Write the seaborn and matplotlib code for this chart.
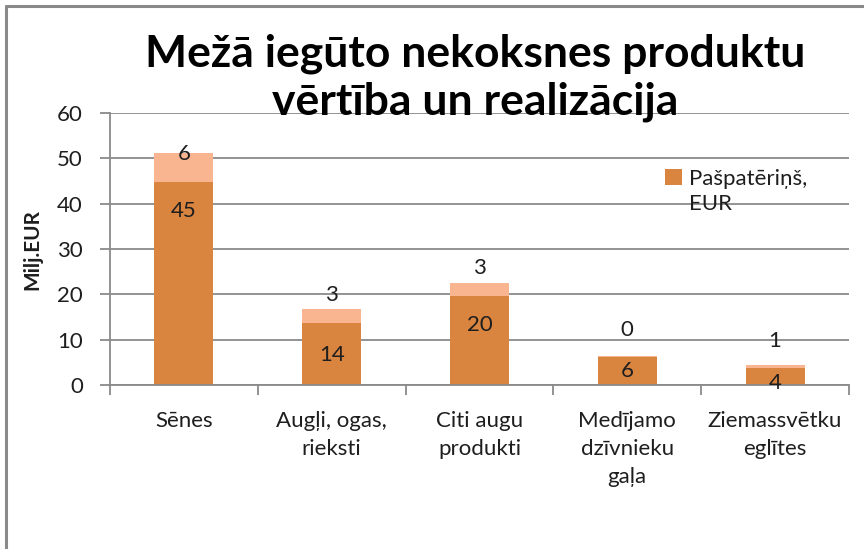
import numpy as np
import pandas as pd
import matplotlib
matplotlib.use('Agg')
import matplotlib.pyplot as plt
import seaborn as sns
from matplotlib.patches import Patch
from matplotlib.lines import Line2D

# values (Milj.EUR)
categories = ['Sēnes', 'Augļi, ogas,\nriieksti'.replace('rii', 'ri'), 'Citi augu\nprodukti',
              'Medījamo\ndzīvnieku\ngaļa', 'Ziemassvētku\neglītes']
pasp = [44.8, 13.7, 19.6, 6.2, 3.8]      # Pašpatēriņš, EUR
real = [6.4, 3.1, 2.9, 0.1, 0.6]         # upper segment
# label nudges in pixels (inner label below top, outer label above top)
inner_off = [-29, -32, -29, -14, -15]
outer_off = [-1, 14, 15, 26, 24]

dark = '#D9843F'
light = '#F9B590'
txt = '#1E1E1E'
grey = '#8A8A8A'

df = pd.DataFrame({'cat': categories, 'pasp': pasp, 'real': real})
df['total'] = df['pasp'] + df['real']

sns.set_style('white')
plt.rcParams['font.family'] = ['Lato', 'DejaVu Sans']

fig = plt.figure(figsize=(8.64, 5.49), dpi=100)
ax = fig.add_axes([110/864, 1 - 385/549, 739/864, 272/549])

sns.barplot(data=df, x='cat', y='total', color=light, width=0.4, ax=ax, saturation=1, linewidth=0)
sns.barplot(data=df, x='cat', y='pasp', color=dark, width=0.4, ax=ax, saturation=1, linewidth=0)

for i, row in df.iterrows():
    ax.annotate(f"{row['pasp']:.0f}", (i, row['pasp']), xytext=(0, inner_off[i]),
                textcoords='offset pixels', ha='center', va='center', fontsize=16, color=txt)
    ax.annotate(f"{row['real']:.0f}", (i, row['total']), xytext=(0, outer_off[i]),
                textcoords='offset pixels', ha='center', va='center', fontsize=16, color=txt)

ax.set_ylim(0, 60)
ax.set_xlim(-0.5, 4.5)
ax.set_yticks(range(0, 61, 10))
ax.yaxis.grid(True, color=grey, lw=1.3)
ax.set_axisbelow(True)
for s in ['top', 'right']:
    ax.spines[s].set_visible(False)
for s in ['left', 'bottom']:
    ax.spines[s].set_color(grey)
    ax.spines[s].set_linewidth(1.3)
ax.set_xticks(np.arange(-0.5, 5, 1), minor=True)
ax.tick_params(axis='x', which='minor', length=7, color=grey, width=1.3, direction='out', bottom=True)
ax.tick_params(axis='x', which='major', length=0, pad=19, labelsize=16, labelcolor=txt)
for lab in ax.get_xticklabels():
    lab.set_linespacing(1.5)
ax.tick_params(axis='y', length=7.5, color=grey, width=1.3, direction='out', left=True,
               labelsize=16, labelcolor=txt, pad=12)
ax.set_xlabel('')
ax.set_ylabel('Milj.EUR', fontsize=15, fontweight='bold', color=txt)
ax.yaxis.set_label_coords(-0.092, 0.5)

leg = ax.legend(handles=[Patch(facecolor=dark, edgecolor='none')], labels=['Pašpatēriņš,'],
                loc='upper left', bbox_to_anchor=(0.736, 0.835), frameon=False, fontsize=16,
                handlelength=0.75, handleheight=0.75, handletextpad=0.35, borderpad=0,
                labelcolor=txt)
fig.canvas.draw()
lt = leg.get_texts()[0].get_window_extent()
x0 = ax.transAxes.inverted().transform((lt.x0, lt.y0))[0]
ax.text(x0, (385 - 210) / 272, 'EUR', transform=ax.transAxes, fontsize=16, color=txt,
        ha='left', va='baseline')

fig.text(0.5498, 1 - 66/549, 'Mežā iegūto nekoksnes produktu', ha='center', va='baseline',
         fontsize=32, fontweight='bold', color='black')
fig.text(0.5498, 1 - 115/549, 'vērtība un realizācija', ha='center', va='baseline',
         fontsize=32, fontweight='bold', color='black')

# outer frame (top and left edges visible)
fig.add_artist(Line2D([6/864, 1], [1 - 6/549, 1 - 6/549], color=grey, lw=2.2))
fig.add_artist(Line2D([6/864, 6/864], [0, 1 - 6/549], color=grey, lw=2.2))

fig.savefig('out.png', dpi=100)
